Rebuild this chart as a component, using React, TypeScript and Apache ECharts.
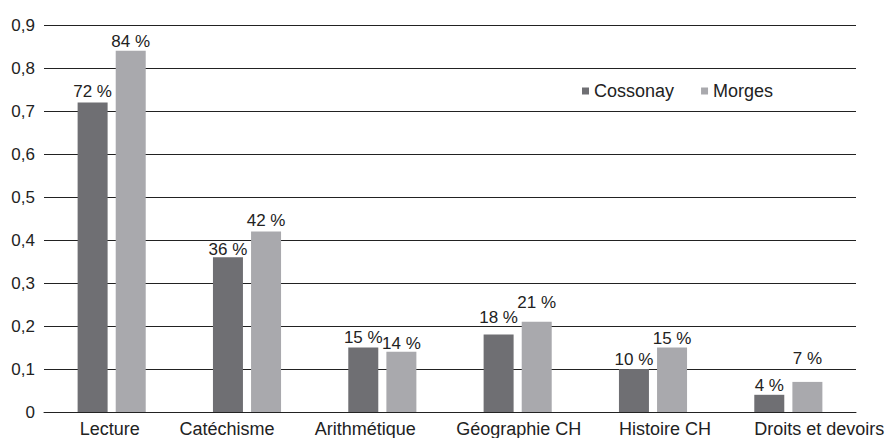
import React, { useEffect, useRef } from "react";
import * as echarts from "echarts";

const categories = ["Lecture", "Catéchisme", "Arithmétique", "Géographie CH", "Histoire CH", "Droits et devoirs"];
const cossonay = [0.72, 0.36, 0.15, 0.18, 0.10, 0.04];
const morges = [0.84, 0.42, 0.14, 0.21, 0.15, 0.07];

// label placement tweaks (pixels)
const categoryLabelShift = [-2, -20, -17, 1, 12, 31];
const cossonayLabelLift = [1, -2, 1, 8, 0, 0];
const morgesLabelLift = [0, 1, -1, 10, 0, 14];

const FONT = "Liberation Sans, Arial, sans-serif";

export default function App() {
  const ref = useRef<HTMLDivElement>(null);
  useEffect(() => {
    const chart = echarts.init(ref.current!, null, { renderer: "svg" });
    const fmt = (p: any) => Math.round(p.value * 100) + " %";
    const baseDist = 1;
    const labelBase = {
      show: true,
      position: "top" as const,
      distance: baseDist,
      color: "#222",
      fontSize: 17,
      fontFamily: FONT,
      formatter: fmt,
    };
    chart.setOption({
      animation: false,
      backgroundColor: "#fff",
      grid: { left: 44, right: 32, top: 25, bottom: 25, containLabel: false },
      legend: {
        data: ["Cossonay", "Morges"],
        left: 577,
        top: 77,
        icon: "rect",
        itemWidth: 7,
        itemHeight: 7,
        itemGap: 27,
        textStyle: { fontSize: 18, color: "#222", fontFamily: FONT },
      },
      xAxis: {
        type: "category",
        data: categories.map((c, i) => {
          const s = categoryLabelShift[i];
          return {
            value: c,
            textStyle: { padding: s >= 0 ? [0, 0, 0, 2 * s] : [0, -2 * s, 0, 0] },
          };
        }),
        axisLine: { show: true, lineStyle: { color: "#222", width: 1 } },
        axisTick: { show: false },
        axisLabel: { color: "#222", fontSize: 18, fontFamily: FONT, margin: 8, interval: 0 },
      },
      yAxis: {
        type: "value",
        min: 0,
        max: 0.9,
        interval: 0.1,
        axisLine: { show: false },
        axisTick: { show: false },
        axisLabel: {
          color: "#222",
          fontSize: 17,
          fontFamily: FONT,
          margin: 9,
          formatter: (v: number) => (Math.round(v * 10) / 10).toString().replace(".", ","),
        },
        splitLine: { show: true, lineStyle: { color: "#222", width: 1 } },
      },
      series: [
        {
          name: "Cossonay",
          type: "bar",
          data: cossonay.map((v, i) => ({
            value: v,
            label: { distance: baseDist + cossonayLabelLift[i] },
          })),
          barWidth: 30,
          barGap: "27%",
          itemStyle: { color: "#6f6f73" },
          label: labelBase,
        },
        {
          name: "Morges",
          type: "bar",
          data: morges.map((v, i) => ({
            value: v,
            label: { distance: baseDist + morgesLabelLift[i] },
          })),
          barWidth: 30,
          barGap: "27%",
          itemStyle: { color: "#a9a9ad" },
          label: labelBase,
        },
      ],
    });
    return () => chart.dispose();
  }, []);
  return <div ref={ref} style={{ position: "absolute", left: 0, top: 0, width: 888, height: 438 }} />;
}
